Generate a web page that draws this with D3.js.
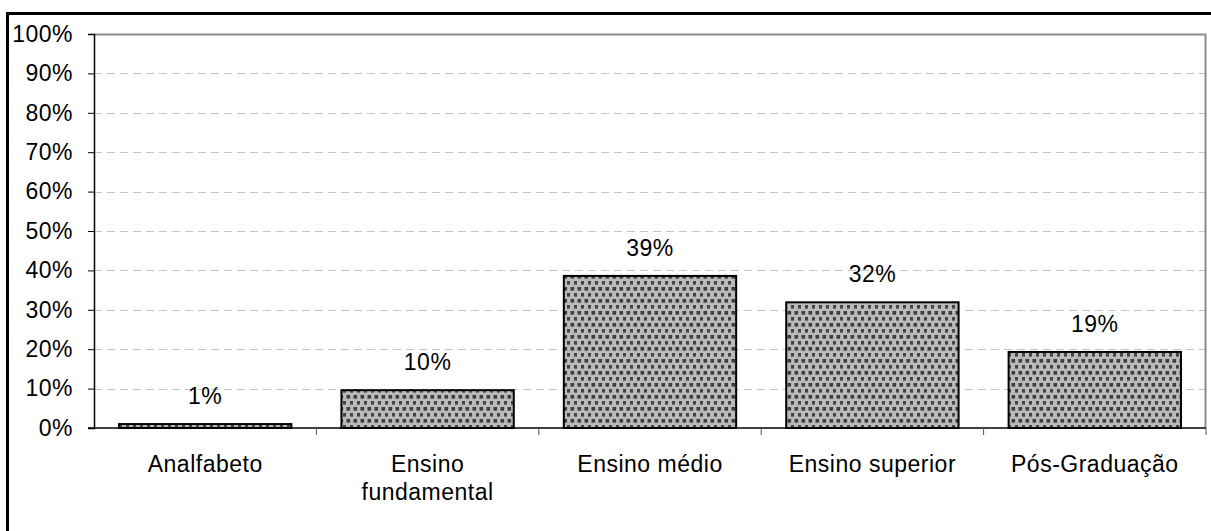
<!DOCTYPE html>
<html>
<head>
<meta charset="utf-8">
<script src="https://cdn.jsdelivr.net/npm/d3@7"></script>
<style>
  body { margin: 0; background: #fff; }
  text { font-family: "Liberation Sans", Arial, sans-serif; fill: #000; letter-spacing: 0.5px; }
</style>
</head>
<body>
<div id="chart"></div>
<script>
// data
var categories = ["Analfabeto", "Ensino fundamental", "Ensino médio", "Ensino superior", "Pós-Graduação"];
var values = [1.0, 9.6, 38.6, 31.9, 19.3];
var valueLabels = ["1%", "10%", "39%", "32%", "19%"];
var yTicks = [0, 10, 20, 30, 40, 50, 60, 70, 80, 90, 100];

var width = 1211;
var height = 531;
var margin = { top: 34, right: 5, bottom: 103, left: 94 };
var innerW = width - margin.left - margin.right;
var innerH = height - margin.top - margin.bottom;
var fontSize = "23px";

var svg = d3.select("#chart").append("svg")
    .attr("width", width)
    .attr("height", height);

// dotted fill like the old spreadsheet pattern
var defs = svg.append("defs");
var pat = defs.append("pattern")
    .attr("id", "dots")
    .attr("patternUnits", "userSpaceOnUse")
    .attr("width", 7)
    .attr("height", 12);
pat.append("rect").attr("width", 7).attr("height", 12).attr("fill", "#bababa");
pat.append("rect").attr("x", 0.5).attr("y", 1).attr("width", 3.6).attr("height", 3.6).attr("fill", "#3c3c3c");
pat.append("rect").attr("x", 4).attr("y", 7).attr("width", 3.6).attr("height", 3.6).attr("fill", "#444");

// outer frame
svg.append("rect")
    .attr("x", 7.5)
    .attr("y", 13.5)
    .attr("width", width + 10)
    .attr("height", height + 10)
    .attr("fill", "none")
    .attr("stroke", "#000")
    .attr("stroke-width", 3);

var g = svg.append("g")
    .attr("transform", "translate(" + margin.left + "," + margin.top + ")");

var x_scale = d3.scaleBand()
    .domain(categories)
    .range([0, innerW]);

var y_scale = d3.scaleLinear()
    .domain([0, 100])
    .range([innerH, 0]);

// grid lines
g.selectAll(".grid")
    .data(yTicks.filter(function(d) { return d > 0 && d < 100; }))
    .enter().append("line")
    .attr("class", "grid")
    .attr("x1", 0)
    .attr("x2", innerW)
    .attr("y1", function(d) { return Math.round(y_scale(d)) + 0.5; })
    .attr("y2", function(d) { return Math.round(y_scale(d)) + 0.5; })
    .attr("stroke", "#c4c4c4")
    .attr("stroke-dasharray", "8,5");

// plot frame top and right (gray)
g.append("path")
    .attr("d", "M0," + 0.5 + "H" + (innerW - 0.5) + "V" + innerH)
    .attr("fill", "none")
    .attr("stroke", "#8c8c8c")
    .attr("stroke-width", 2);

// bars
var barW = x_scale.bandwidth() * 0.775;
g.selectAll(".bar")
    .data(values)
    .enter().append("rect")
    .attr("class", "bar")
    .attr("x", function(d, i) { return x_scale(categories[i]) + (x_scale.bandwidth() - barW) / 2; })
    .attr("width", barW)
    .attr("y", function(d) { return y_scale(d); })
    .attr("height", function(d) { return innerH - y_scale(d); })
    .attr("fill", "url(#dots)")
    .attr("stroke", "#000")
    .attr("stroke-width", 2);

// value labels
g.selectAll(".vlabel")
    .data(values)
    .enter().append("text")
    .attr("class", "vlabel")
    .attr("x", function(d, i) { return x_scale(categories[i]) + x_scale.bandwidth() / 2; })
    .attr("y", function(d) { return y_scale(d) - 20; })
    .attr("text-anchor", "middle")
    .style("font-size", fontSize)
    .text(function(d, i) { return valueLabels[i]; });

// y axis
var y_axis = d3.axisLeft(y_scale)
    .tickValues(yTicks)
    .tickSize(6)
    .tickPadding(15)
    .tickFormat(function(d) { return d + "%"; });

var yg = g.append("g").attr("class", "y axis").call(y_axis);
yg.select(".domain").attr("stroke", "#000").attr("stroke-width", 1.5);
yg.selectAll(".tick line").attr("stroke", "#000");
yg.selectAll(".tick text").style("font-size", fontSize).attr("fill", "#000");

// x axis
var xg = g.append("g")
    .attr("class", "x axis")
    .attr("transform", "translate(0," + innerH + ")");
xg.append("line")
    .attr("x1", -6).attr("x2", innerW)
    .attr("stroke", "#000").attr("stroke-width", 1.5);
xg.selectAll(".xtick")
    .data(categories.slice(1).concat(["end"]))
    .enter().append("line")
    .attr("class", "xtick")
    .attr("x1", function(d, i) { return x_scale.step() * (i + 1); })
    .attr("x2", function(d, i) { return x_scale.step() * (i + 1); })
    .attr("y1", 0)
    .attr("y2", 7)
    .attr("stroke", "#555");

var xl = xg.selectAll(".xlabel")
    .data(categories)
    .enter().append("text")
    .attr("class", "xlabel")
    .attr("x", function(d) { return x_scale(d) + x_scale.bandwidth() / 2; })
    .attr("y", 44)
    .attr("text-anchor", "middle")
    .style("font-size", fontSize);

xl.each(function(d) {
    var lines = d === "Ensino fundamental" ? ["Ensino", "fundamental"] : [d];
    var t = d3.select(this);
    lines.forEach(function(l, k) {
        t.append("tspan")
            .attr("x", t.attr("x"))
            .attr("dy", k === 0 ? 0 : 28)
            .text(l);
    });
});
</script>
</body>
</html>
